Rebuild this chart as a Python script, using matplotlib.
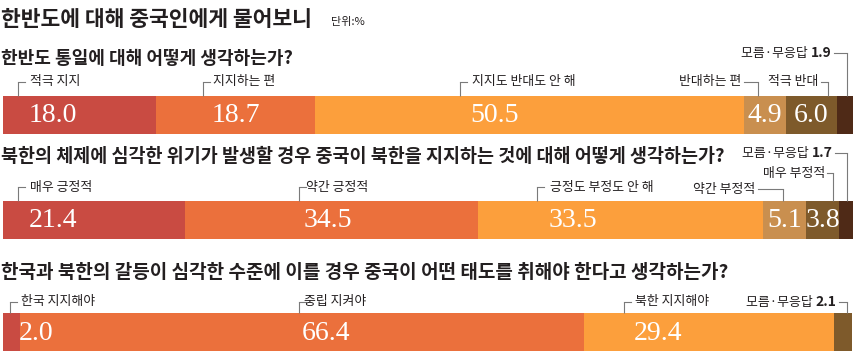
import numpy as np
import matplotlib
matplotlib.use('Agg')
import matplotlib.pyplot as plt

plt.rcParams['font.family'] = ['Noto Sans CJK KR', 'DejaVu Sans']

# data
title = '한반도에 대해 중국인에게 물어보니'
unit = '단위:%'
questions = ['한반도 통일에 대해 어떻게 생각하는가?',
             '북한의 체제에 심각한 위기가 발생할 경우 중국이 북한을 지지하는 것에 대해 어떻게 생각하는가?',
             '한국과 북한의 갈등이 심각한 수준에 이를 경우 중국이 어떤 태도를 취해야 한다고 생각하는가?']

q1_labels = ['적극 지지', '지지하는 편', '지지도 반대도 안 해', '반대하는 편', '적극 반대', '모름·무응답']
q1_values = [18.0, 18.7, 50.5, 4.9, 6.0, 1.9]
q2_labels = ['매우 긍정적', '약간 긍정적', '긍정도 부정도 안 해', '약간 부정적', '매우 부정적', '모름·무응답']
q2_values = [21.4, 34.5, 33.5, 5.1, 3.8, 1.7]
q3_labels = ['한국 지지해야', '중립 지켜야', '북한 지지해야', '모름·무응답']
q3_values = [2.0, 66.4, 29.4, 2.1]

# styles / layout
RED, ORG, LORG, TAN, BRN, DBRN = '#C94B42', '#EB703C', '#FC9F3C', '#C98F4F', '#7E5A2B', '#4F2A17'
q1_colors = [RED, ORG, LORG, TAN, BRN, DBRN]
q2_colors = [RED, ORG, LORG, TAN, BRN, DBRN]
q3_colors = [RED, ORG, LORG, BRN]

# (bracket x %, text x %, side, label y px)
q1_pos = [(1.8, 3.2, 'L', 82), (23.5, 24.7, 'L', 82), (53.8, 55.2, 'L', 82),
          (88.8, 86.9, 'R', 82), (97.1, 95.9, 'R', 82), (99.3, 97.5, 'R', 53)]
q2_pos = [(1.8, 3.2, 'L', 187), (34.8, 35.6, 'L', 187), (62.8, 64.4, 'L', 187),
          (91.8, 88.5, 'R', 189), (97.6, 96.7, 'R', 173), (99.3, 97.6, 'R', 153)]
q3_pos = [(0.8, 2.1, 'L', 302), (34.8, 35.4, 'L', 302), (73.1, 74.4, 'L', 302),
          (99.3, 98.1, 'R', 302)]

bar_y = [115, 219.5, 332]
q_y = [58, 157, 273]
q_fs = [13, 13.3, 13.7]
BAR_H = 38
TXT = '#231F20'
LINE = '#7a7a7a'
LBL_FS = 9.3

fig = plt.figure(figsize=(8.54, 3.51), dpi=100)
ax = fig.add_axes([3 / 854, 0, 850 / 854, 1])
ax.set_xlim(0, 100)
ax.set_ylim(351, 0)
ax.axis('off')

ax.text(-0.2, 20, title, fontsize=15.5, fontweight='bold', color=TXT, va='center', ha='left')
ax.text(38.6, 22, unit, fontsize=8, color=TXT, va='center', ha='left')

sets = [(q1_labels, q1_values, q1_colors, q1_pos),
        (q2_labels, q2_values, q2_colors, q2_pos),
        (q3_labels, q3_values, q3_colors, q3_pos)]

for i, (labels, values, colors, pos) in enumerate(sets):
    ax.text(-0.2, q_y[i], questions[i], fontsize=q_fs[i], fontweight='bold', color=TXT,
            va='center', ha='left')
    lefts = np.concatenate([[0], np.cumsum(values)[:-1]])
    ax.barh(bar_y[i], values, left=lefts, height=BAR_H, color=colors, linewidth=0)
    top = bar_y[i] - BAR_H / 2
    n = len(values)
    for j in range(n):
        bx, tx, side, ly = pos[j]
        # bracket
        ax.plot([bx, bx], [top, ly], color=LINE, lw=0.8, solid_capstyle='butt')
        if side == 'L':
            ax.plot([bx, bx + 0.8], [ly, ly], color=LINE, lw=0.8)
            ax.text(tx, ly, labels[j], fontsize=LBL_FS, color=TXT, va='center', ha='left')
        else:
            ax.plot([tx + 0.3, bx], [ly, ly], color=LINE, lw=0.8)
            if j == n - 1:
                tb = ax.text(tx, ly, f'{values[j]:.1f}', fontsize=10, fontweight='bold',
                             color=TXT, va='center', ha='right')
                ax.annotate(labels[j] + ' ', xy=(0, 0), xycoords=tb, fontsize=LBL_FS,
                            color=TXT, va='bottom', ha='right')
            else:
                ax.text(tx, ly, labels[j], fontsize=LBL_FS, color=TXT, va='center', ha='right')
        # value in bar
        if j == n - 1:
            continue
        if side == 'L':
            ax.text(tx - 0.2, bar_y[i] + 1, f'{values[j]:.1f}', fontsize=20,
                    family='Liberation Serif', color='white', va='center', ha='left')
        else:
            ax.text(lefts[j] + values[j] / 2, bar_y[i] + 1, f'{values[j]:.1f}', fontsize=20,
                    family='Liberation Serif', color='white', va='center', ha='center')

fig.savefig('out.png', dpi=100, facecolor='white')
